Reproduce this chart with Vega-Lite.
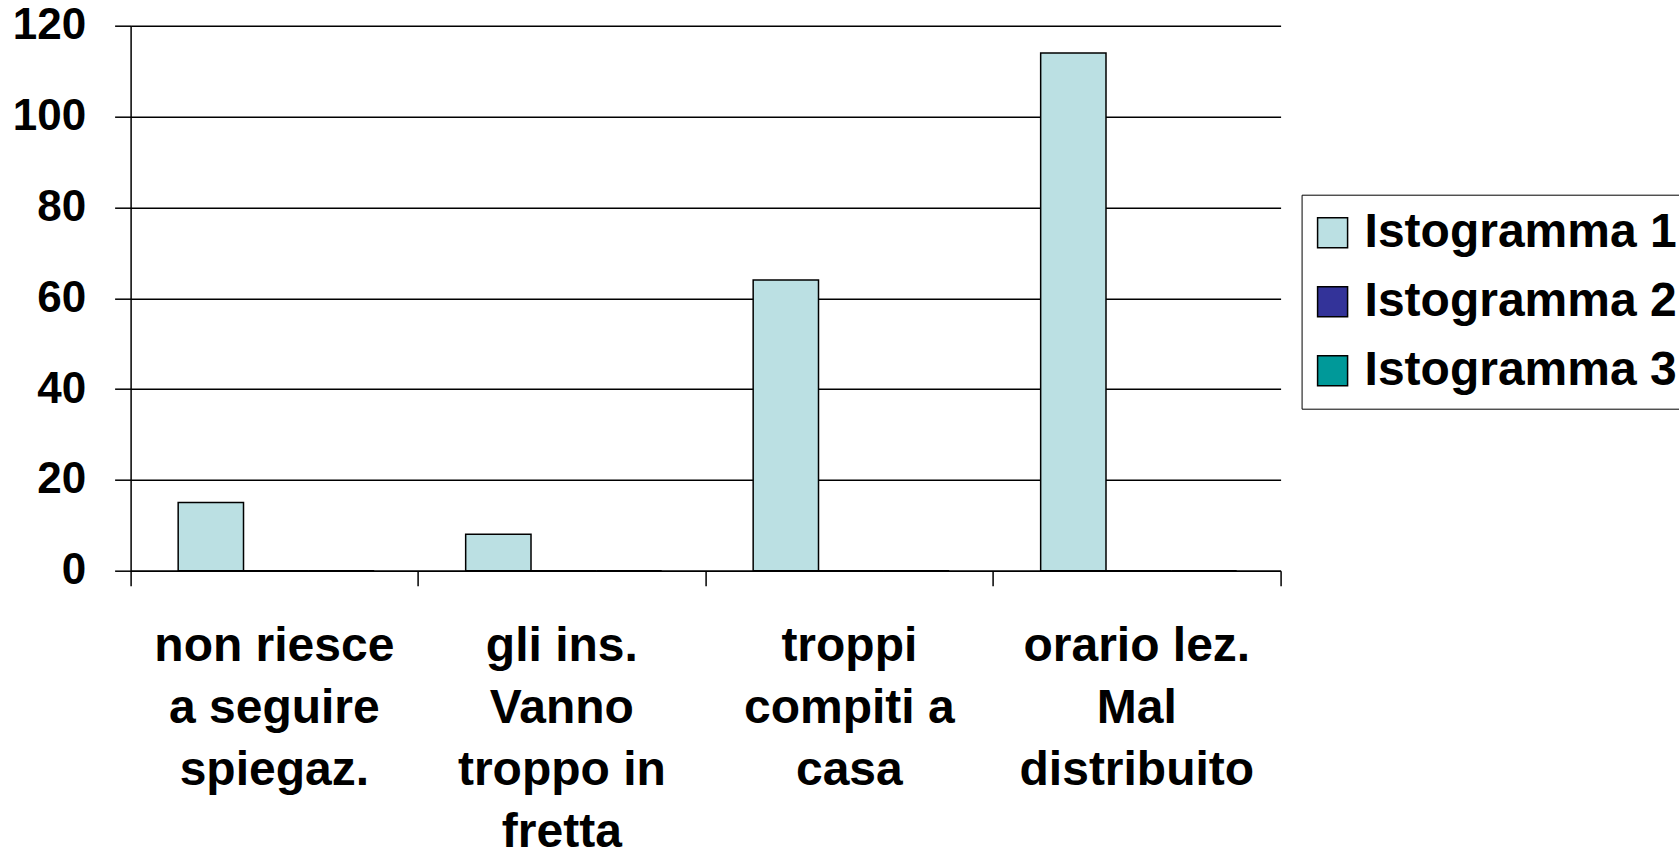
{
  "$schema": "https://vega.github.io/schema/vega-lite/v6.json",
  "autosize": "none",
  "width": 1150,
  "height": 545,
  "padding": {"left": 130.6, "top": 25.7, "right": 398, "bottom": 278},
  "background": "white",
  "config": {
    "view": {"stroke": null},
    "font": "Liberation Sans"
  },
  "data": {
    "values": [
      {"cat": "non riesce a seguire spiegaz.", "serie": "Istogramma 1", "v": 15},
      {"cat": "non riesce a seguire spiegaz.", "serie": "Istogramma 2", "v": 0},
      {"cat": "non riesce a seguire spiegaz.", "serie": "Istogramma 3", "v": 0},
      {"cat": "gli ins. Vanno troppo in fretta", "serie": "Istogramma 1", "v": 8},
      {"cat": "gli ins. Vanno troppo in fretta", "serie": "Istogramma 2", "v": 0},
      {"cat": "gli ins. Vanno troppo in fretta", "serie": "Istogramma 3", "v": 0},
      {"cat": "troppi compiti a casa", "serie": "Istogramma 1", "v": 64},
      {"cat": "troppi compiti a casa", "serie": "Istogramma 2", "v": 0},
      {"cat": "troppi compiti a casa", "serie": "Istogramma 3", "v": 0},
      {"cat": "orario lez. Mal distribuito", "serie": "Istogramma 1", "v": 114},
      {"cat": "orario lez. Mal distribuito", "serie": "Istogramma 2", "v": 0},
      {"cat": "orario lez. Mal distribuito", "serie": "Istogramma 3", "v": 0}
    ]
  },
  "mark": {"type": "bar", "stroke": "black", "strokeWidth": 1.5},
  "encoding": {
    "x": {
      "field": "cat",
      "type": "nominal",
      "sort": null,
      "scale": {"paddingInner": 0, "paddingOuter": 0},
      "axis": {
        "title": null,
        "bandPosition": 1,
        "tickExtra": true,
        "labelAngle": 0,
        "labelAlign": "center",
        "labelBaseline": "top",
        "labelFont": "Liberation Sans",
        "labelFontWeight": "bold",
        "labelFontSize": 48,
        "labelLineHeight": 62,
        "labelColor": "black",
        "labelPadding": 37,
        "labelLimit": 0,
        "tickSize": 15,
        "tickColor": "black",
        "tickWidth": 1.5,
        "domainColor": "black",
        "domainWidth": 1.5,
        "labelExpr": "datum.value == 'non riesce a seguire spiegaz.' ? ['non riesce','a seguire','spiegaz.'] : datum.value == 'gli ins. Vanno troppo in fretta' ? ['gli ins.','Vanno','troppo in','fretta'] : datum.value == 'troppi compiti a casa' ? ['troppi','compiti a','casa'] : datum.value == 'orario lez. Mal distribuito' ? ['orario lez.','Mal','distribuito'] : ''"
      }
    },
    "xOffset": {
      "field": "serie",
      "type": "nominal",
      "scale": {"paddingInner": 0, "paddingOuter": 0.7, "align": 0.52}
    },
    "y": {
      "field": "v",
      "type": "quantitative",
      "scale": {"domain": [0, 120], "nice": false},
      "axis": {
        "title": null,
        "values": [0, 20, 40, 60, 80, 100, 120],
        "grid": true,
        "gridColor": "black",
        "gridWidth": 1.5,
        "gridOpacity": 1,
        "tickSize": 16,
        "tickColor": "black",
        "tickWidth": 1.5,
        "domainColor": "black",
        "domainWidth": 1.5,
        "labelPadding": 29,
        "labelFont": "Liberation Sans",
        "labelFontWeight": "bold",
        "labelFontSize": 44,
        "labelColor": "black"
      }
    },
    "color": {
      "field": "serie",
      "type": "nominal",
      "scale": {
        "domain": ["Istogramma 1", "Istogramma 2", "Istogramma 3"],
        "range": ["#BBE0E3", "#333399", "#009999"]
      },
      "legend": {
        "title": null,
        "orient": "none",
        "legendX": 1171,
        "legendY": 169,
        "strokeColor": "black",
        "padding": 14,
        "symbolType": "square",
        "symbolSize": 900,
        "symbolStrokeColor": "black",
        "symbolStrokeWidth": 1.5,
        "symbolOpacity": 1,
        "symbolOffset": -7,
        "labelFont": "Liberation Sans",
        "labelFontWeight": "bold",
        "labelFontSize": 48,
        "labelColor": "black",
        "labelOffset": 8,
        "labelLimit": 0,
        "rowPadding": 21
      }
    }
  }
}
